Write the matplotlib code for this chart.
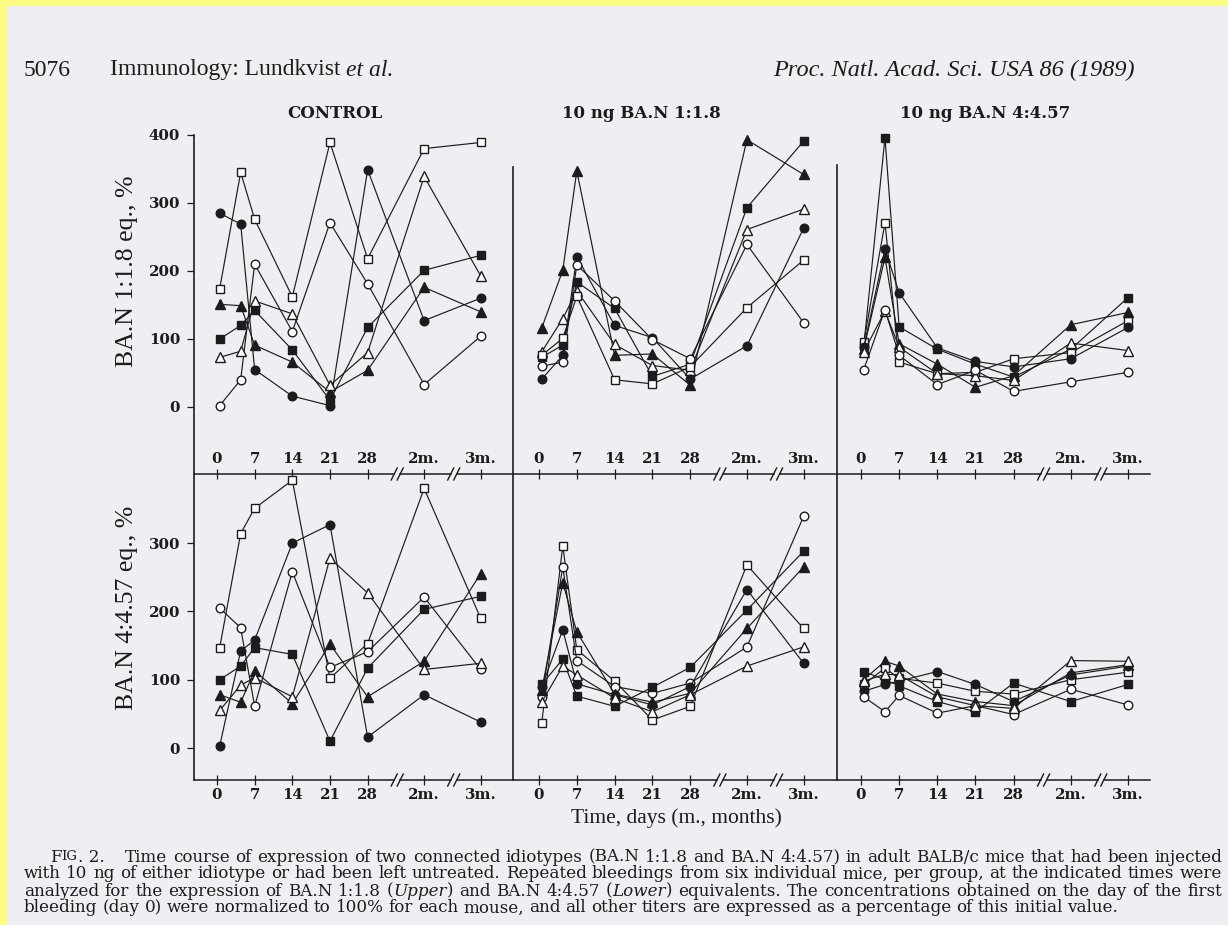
import numpy as np
import matplotlib
matplotlib.use("Agg")
import matplotlib.pyplot as plt

# time points (plot position in days; 2 m. and 3 m. sit after axis breaks)
days_x = [0.5, 4.4, 7, 14, 21, 28, 38.5, 49]
tick_pos = [0, 7, 14, 21, 28, 38.5, 49]
tick_lab = ["0", "7", "14", "21", "28", "2m.", "3m."]
break_pos = [33.5, 44]

panel_titles = ["CONTROL", "10 ng BA.N 1:1.8", "10 ng BA.N 4:4.57"]
row_labels = ["BA.N 1:1.8 eq., %", "BA.N 4:4.57 eq., %"]

# upper row: BA.N 1:1.8 equivalents, % of day 0
ctrl_upper = {
    "s_open": [174, 345, 276, 162, 389, 218, 380, 389],
    "o_fill": [285, 269, 55, 16, 2, 349, 127, 160],
    "o_open": [2, 40, 210, 111, 271, 181, 33, 104],
    "s_fill": [100, 120, 142, 84, 10, 117, 201, 223],
    "t_fill": [151, 149, 91, 66, 22, 54, 176, 140],
    "t_open": [73, 82, 156, 137, 32, 80, 339, 193],
}
ba18_upper = {
    "t_fill": [116, 201, 347, 76, 78, 32, 393, 342],
    "s_fill": [73, 91, 184, 145, 45, 63, 293, 391],
    "t_open": [81, 130, 171, 92, 61, 54, 261, 291],
    "o_fill": [41, 76, 221, 120, 102, 41, 90, 263],
    "o_open": [60, 66, 209, 156, 99, 71, 239, 124],
    "s_open": [76, 101, 163, 40, 34, 59, 146, 216],
}
ba457_upper = {
    "s_fill": [89, 396, 118, 85, 63, 44, 85, 161],
    "s_open": [95, 271, 66, 49, 51, 71, 80, 127],
    "o_fill": [88, 232, 168, 87, 67, 59, 71, 117],
    "t_fill": [85, 220, 93, 63, 29, 46, 121, 139],
    "t_open": [81, 141, 88, 49, 46, 39, 94, 83],
    "o_open": [55, 143, 76, 33, 54, 23, 37, 51],
}

# lower row: BA.N 4:4.57 equivalents
ctrl_lower = {
    "s_open": [147, 314, 351, 392, 102, 153, 380, 190],
    "o_fill": [3, 142, 158, 300, 327, 16, 78, 38],
    "o_open": [205, 176, 61, 258, 118, 141, 221, 115],
    "s_fill": [100, 120, 147, 137, 10, 117, 203, 222],
    "t_fill": [78, 67, 113, 65, 152, 75, 127, 255],
    "t_open": [55, 92, 103, 75, 278, 227, 115, 124],
}
ba18_lower = {
    "s_open": [36, 296, 144, 98, 41, 61, 268, 175],
    "o_open": [75, 265, 128, 90, 80, 95, 148, 339],
    "t_fill": [85, 242, 170, 79, 67, 80, 175, 265],
    "o_fill": [89, 173, 94, 78, 63, 90, 232, 124],
    "s_fill": [93, 130, 76, 61, 89, 118, 202, 288],
    "t_open": [67, 120, 107, 73, 53, 78, 120, 148],
}
ba457_lower = {
    "s_fill": [112, 100, 91, 68, 53, 95, 68, 93],
    "t_fill": [100, 127, 120, 79, 68, 62, 110, 122],
    "s_open": [93, 117, 102, 95, 83, 79, 100, 111],
    "o_fill": [83, 93, 98, 112, 93, 68, 107, 120],
    "o_open": [75, 53, 77, 51, 62, 49, 86, 63],
    "t_open": [98, 108, 107, 75, 62, 58, 128, 127],
}

caption = [
    "Time course of expression of two connected idiotypes (BA.N 1:1.8 and BA.N 4:4.57) in adult BALB/c mice that had been injected",
    "with 10 ng of either idiotype or had been left untreated. Repeated bleedings from six individual mice, per group, at the indicated times were",
    "analyzed for the expression of BA.N 1:1.8 (_Upper_) and BA.N 4:4.57 (_Lower_) equivalents. The concentrations obtained on the day of the first",
    "bleeding (day 0) were normalized to 100% for each mouse, and all other titers are expressed as a percentage of this initial value.",
]

INK = "#1c1c1c"
PAPER = "#eeeff2"
W, H = 1228, 925
SERIF = "DejaVu Serif"
TIMES = "Liberation Serif"

marker_style = {
    "o_open": ("o", "white", 6.2),
    "o_fill": ("o", INK, 6.2),
    "s_open": ("s", "white", 5.8),
    "s_fill": ("s", INK, 5.8),
    "t_open": ("^", "white", 7.0),
    "t_fill": ("^", INK, 7.0),
}

fig = plt.figure(figsize=(W / 100, H / 100), dpi=100)
fig.patch.set_facecolor("#fdfd84")

page = fig.add_axes([0, 0, 1, 1])
page.set_xlim(0, W)
page.set_ylim(H, 0)
page.axis("off")
page.add_patch(plt.Rectangle((7, 6), W, H, color=PAPER, zorder=0))
renderer = fig.canvas.get_renderer()


def fig_box(left, top, right, bottom):
    return [left / W, 1 - bottom / H, (right - left) / W, (bottom - top) / H]


# column geometry in figure pixels: axes left/right, pixel of day 0, px per day
cols = [(194, 513, 217, 5.38), (513, 837, 539, 5.40), (837, 1150, 861, 5.45)]
rows = [(130, 474, 407, 0.68), (474, 780, 748, 0.683)]  # top, bottom, px of 0, px per unit
row_data = [[ctrl_upper, ba18_upper, ba457_upper], [ctrl_lower, ba18_lower, ba457_lower]]

tick_font = dict(family=SERIF, fontsize=10.8, weight="bold")

axes = {}
for r, (top, bot, y0, sy) in enumerate(rows):
    for c, (left, right, x0, sx) in enumerate(cols):
        ax = fig.add_axes(fig_box(left, top, right, bot))
        ax.patch.set_visible(False)
        ax.set_xlim((left - x0) / sx, (right - x0) / sx)
        ax.set_ylim((y0 - bot) / sy, (y0 - top) / sy)
        for s in ax.spines.values():
            s.set_visible(False)
        for key, vals in row_data[r][c].items():
            m, fc, ms = marker_style[key]
            ax.plot(days_x, vals, color=INK, lw=0.85, marker=m, ms=ms,
                    mfc=fc, mec=INK, mew=1.0, clip_on=False)
        ax.set_xticks(tick_pos)
        ax.set_xticklabels(tick_lab, **tick_font)
        ax.tick_params(axis="x", direction="inout", length=7, width=0.9,
                       color=INK, labelcolor=INK,
                       pad=(-19 if r == 0 else 2))
        if c == 0:
            ticks = [0, 100, 200, 300, 400] if r == 0 else [0, 100, 200, 300]
            ax.set_yticks(ticks)
            ax.set_yticklabels([str(t) for t in ticks], **tick_font)
            ax.tick_params(axis="y", direction="out", length=5, width=0.9,
                           color=INK, labelcolor=INK, pad=5)
        else:
            ax.set_yticks([])
        axes[r, c] = ax


def to_px(ax, x, y):
    dx, dy = ax.transData.transform((x, y))
    return dx, H - dy


# horizontal axis lines with // breaks
for r, (top, bot, y0, sy) in enumerate(rows):
    cuts = []
    for c in range(3):
        for b in break_pos:
            cuts.append(to_px(axes[r, c], b, 0)[0])
    xs = [cols[0][0]] + [v for b in cuts for v in (b - 3, b + 3)] + [1150]
    for i in range(0, len(xs), 2):
        page.plot([xs[i], xs[i + 1]], [bot, bot], color=INK, lw=1.1)
    for b in cuts:
        for dx in (-3, 3):
            page.plot([b + dx - 3, b + dx + 3], [bot + 6, bot - 6], color=INK, lw=1.0)

# vertical rules
page.plot([194, 194], [135, 780], color=INK, lw=1.2)
page.plot([513, 513], [167, 780], color=INK, lw=1.2)
page.plot([837, 837], [165, 780], color=INK, lw=1.2)

# panel titles
for c, t in enumerate(panel_titles):
    cx = [335, 641, 985][c]
    page.text(cx, 113, t, family=SERIF, fontsize=12, weight="bold",
              ha="center", va="center", color=INK)

for r, lab in enumerate(row_labels):
    page.text(127, [271, 608][r], lab, family=TIMES, fontsize=18.5, rotation=90,
              ha="center", va="center", color=INK)

page.text(676, 818, "Time, days (m., months)", family=TIMES, fontsize=15.5,
          ha="center", va="center", color=INK)

# running head
page.text(24, 70, "5076", family=TIMES, fontsize=17, ha="left", va="center", color=INK)
head = page.text(110, 70, "Immunology: Lundkvist ", family=TIMES, fontsize=17,
                 ha="left", va="center", color=INK)
page.text(110 + head.get_window_extent(renderer).width, 70, "et al.", family=TIMES,
          fontsize=17, style="italic", ha="left", va="center", color=INK)
page.text(1135, 70, "Proc. Natl. Acad. Sci. USA 86 (1989)", family=TIMES, fontsize=17.5,
          style="italic", ha="right", va="center", color=INK)

CAP_FONT = "DejaVu Serif"


def set_line(line, y, x_start, x_end, size, justify=True, lead=None):
    words = []
    for w in line.split(" "):
        parts = w.split("_")
        words.append([(p, "italic" if i % 2 else "normal") for i, p in enumerate(parts) if p])
    if lead:
        words = [lead] + words
    objs = []
    widths = []
    for pieces in words:
        ws = []
        for txt, st in pieces:
            sz = size * 0.78 if st == "small" else size
            t = page.text(0, y, txt, family=CAP_FONT, fontsize=sz,
                          style="italic" if st == "italic" else "normal",
                          ha="left", va="center", color=INK)
            ws.append((t, t.get_window_extent(renderer).width))
        objs.append(ws)
        widths.append(sum(w for _, w in ws))
    space = size * 0.3 * 100 / 72
    gaps = [space] * (len(words) - 1)
    if lead:
        gaps[0] = space * 4
    if justify:
        extra = (x_end - x_start - sum(widths) - sum(gaps)) / len(gaps)
        gaps = [g + extra for g in gaps]
    x = x_start
    for i, ws in enumerate(objs):
        for t, w in ws:
            t.set_x(x)
            x += w
        if i < len(gaps):
            x += gaps[i]
    return x


# pick the caption size so the ragged last line ends where the printed one does
probe = page.text(0, 0, caption[3], family=CAP_FONT, fontsize=10)
cap_size = 10 * (1132 - 24) / probe.get_window_extent(renderer).width
probe.remove()

cap_y = [857, 874, 891, 908]
fig_lead = [("F", "normal"), ("IG", "small"), (". 2.", "normal")]
set_line(caption[0], cap_y[0], 50, 1222, cap_size, lead=fig_lead)
set_line(caption[1], cap_y[1], 24, 1222, cap_size)
set_line(caption[2], cap_y[2], 24, 1222, cap_size)
set_line(caption[3], cap_y[3], 24, 1222, cap_size, justify=False)

fig.savefig("out.png", dpi=100, facecolor=fig.get_facecolor())
